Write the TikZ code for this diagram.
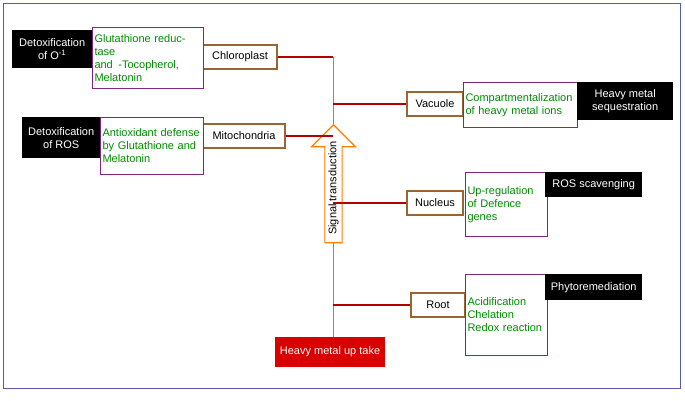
\documentclass[tikz,border=0pt]{standalone}
\usepackage{fontspec}
\setmainfont{Liberation Sans}
\usetikzlibrary{positioning,shapes.arrows}

\begin{document}
\begin{tikzpicture}[x=1pt,y=-1pt,font=\fontsize{11}{13}\selectfont,
  organ/.style={draw=brown!80!black,line width=1.2pt,fill=white,inner sep=2pt,minimum height=24},
  action/.style={draw=violet!70!gray,line width=1pt,fill=white,text=green!55!black,align=left,anchor=north west,inner sep=2pt},
  result/.style={fill=black,text=white,align=center,anchor=north west,inner sep=1pt},
  link/.style={draw=red!70!black,line width=1.2pt}]
\useasboundingbox (0,0) rectangle (685,400);
\draw[blue!30!gray,line width=1pt] (3,3) rectangle (680,388);
% trunk
\node[fill=red!85!black,text=white,minimum width=110,minimum height=30] (uptake) at (330,352) {Heavy metal up take};
\coordinate (t_top) at (333,57);
\draw[blue!40!gray!70] (t_top) -- (uptake.north -| t_top);
\node[single arrow,draw=orange,line width=1.2pt,fill=white,rotate=90,minimum height=118,minimum width=44,single arrow head extend=12,inner sep=2pt] (signal) at (333.5,188) {Signal transduction};
% left side
\node[organ,minimum width=74] (chloro) at (240,57) {Chloroplast};
\node[organ,minimum width=82] (mito) at (244,136) {Mitochondria};
\node[action,text width=107,minimum height=61] (gluta) at (92,27) {Glutathione reductase\\and \,-Tocopherol,\\Melatonin};
\node[action,text width=99,minimum height=57] (antiox) at (100,117) {Antioxidant defense\\by Glutathione and\\Melatonin};
\node[result,minimum width=80,minimum height=38] (detoxO) at (12,30) {Detoxification\\of O\textsuperscript{-1}};
\node[result,minimum width=78,minimum height=41] (detoxR) at (22,117) {Detoxification\\of ROS};
% right side
\node[organ,minimum width=56] (vacuole) at (435,104) {Vacuole};
\node[organ,minimum width=56] (nucleus) at (435,203) {Nucleus};
\node[organ,minimum width=54] (root) at (438,305) {Root};
\node[action,text width=110,minimum height=45] (compart) at (463,82) {Compartmentalization\\of heavy metal ions};
\node[action,text width=78,minimum height=64] (upreg) at (465,172) {Up-regulation\\of Defence\\genes};
\node[action,text width=78,minimum height=81] (acid) at (465,274) {Acidification\\Chelation\\Redox reaction};
\node[result,minimum width=96,minimum height=38] (seq) at (577,82) {Heavy metal\\sequestration};
\node[result,minimum width=97,minimum height=25] (scav) at (545,172) {ROS scavenging};
\node[result,minimum width=97,minimum height=26] (phyto) at (545,274) {Phytoremediation};
% links
\path[link]
(chloro) edge (t_top)
(mito) edge (mito -| t_top)
(vacuole) edge (vacuole -| t_top)
(nucleus) edge (nucleus -| t_top)
(root) edge (root -| t_top);
\end{tikzpicture}
\end{document}
